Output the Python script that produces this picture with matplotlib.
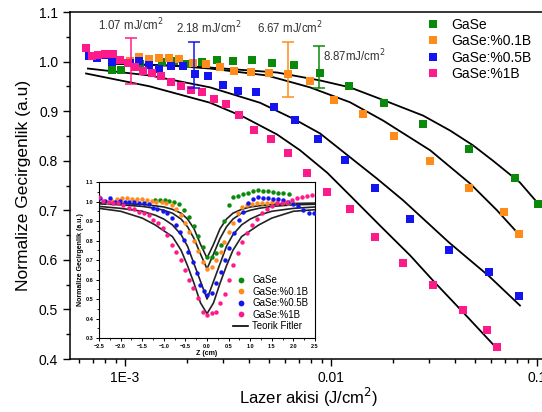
import numpy as np
import matplotlib
matplotlib.use('Agg')
import matplotlib.pyplot as plt
from matplotlib.ticker import MultipleLocator, LogLocator, NullFormatter

plt.rcParams['font.family'] = ['Liberation Sans', 'DejaVu Sans']

# --- ana grafik verileri (J/cm^2, normalize gecirgenlik) ---
gase_x = [8.65e-4, 9.56e-4, 1.18e-3, 1.51e-3, 1.73e-3, 2.00e-3, 2.37e-3, 2.80e-3, 3.34e-3, 4.14e-3,
          5.18e-3, 6.61e-3, 8.85e-3, 1.22e-2, 1.81e-2, 2.80e-2, 4.68e-2, 7.82e-2, 0.101]
gase_y = [0.984, 0.984, 0.996, 1.000, 1.002, 0.996, 1.000, 1.004, 1.002, 1.004,
          0.998, 0.994, 0.978, 0.950, 0.917, 0.875, 0.823, 0.766, 0.712]

b01_x = [1.057e-3, 1.17e-3, 1.31e-3, 1.46e-3, 1.64e-3, 1.83e-3, 2.14e-3, 2.47e-3, 2.89e-3, 3.38e-3,
         4.09e-3, 5.00e-3, 6.18e-3, 7.91e-3, 1.035e-2, 1.43e-2, 2.02e-2, 3.03e-2, 4.68e-2, 6.92e-2, 8.18e-2]
b01_y = [1.002, 1.010, 1.006, 1.008, 1.008, 1.006, 0.998, 0.996, 0.990, 0.982,
         0.980, 0.978, 0.974, 0.960, 0.923, 0.895, 0.849, 0.800, 0.744, 0.696, 0.653]

b05_x = [6.68e-4, 7.31e-4, 7.91e-4, 8.65e-4, 1.057e-3, 1.17e-3, 1.31e-3, 1.46e-3, 1.67e-3, 1.91e-3,
         2.19e-3, 2.53e-3, 2.99e-3, 3.54e-3, 4.33e-3, 5.29e-3, 6.69e-3, 8.65e-3, 1.17e-2, 1.64e-2,
         2.42e-2, 3.74e-2, 5.85e-2, 8.18e-2]
b05_y = [1.012, 1.008, 1.014, 1.000, 0.998, 1.002, 0.994, 0.986, 0.992, 0.992,
         0.974, 0.970, 0.952, 0.940, 0.938, 0.909, 0.883, 0.843, 0.802, 0.744,
         0.683, 0.619, 0.575, 0.528]

b1_x = [6.47e-4, 6.92e-4, 7.40e-4, 8.00e-4, 8.75e-4, 9.46e-4, 1.035e-3, 1.12e-3, 1.22e-3, 1.35e-3,
        1.50e-3, 1.67e-3, 1.87e-3, 2.09e-3, 2.37e-3, 2.70e-3, 3.09e-3, 3.57e-3, 4.23e-3, 5.12e-3,
        6.18e-3, 7.64e-3, 9.57e-3, 1.235e-2, 1.64e-2, 2.24e-2, 3.13e-2, 4.38e-2, 5.72e-2, 6.39e-2]
b1_y = [1.028, 1.012, 1.014, 1.016, 1.016, 1.004, 0.998, 0.990, 0.982, 0.978,
        0.970, 0.958, 0.950, 0.942, 0.938, 0.925, 0.915, 0.893, 0.863, 0.843,
        0.815, 0.776, 0.736, 0.702, 0.647, 0.593, 0.550, 0.498, 0.458, 0.425]

# teorik egriler (ana grafik)
fit_gase_x = [8.65e-4, 1.65e-3, 2.59e-3, 5.47e-3, 8.85e-3, 1.236e-2, 1.83e-2, 2.80e-2, 3.78e-2, 4.89e-2, 6.11e-2, 8.26e-2, 0.101]
fit_gase_y = [0.996, 0.992, 0.988, 0.978, 0.962, 0.948, 0.921, 0.891, 0.861, 0.831, 0.800, 0.756, 0.714]
fit_b01_x = [8.65e-4, 1.65e-3, 2.59e-3, 4.89e-3, 7.91e-3, 1.236e-2, 1.79e-2, 3.03e-2, 4.73e-2, 6.39e-2, 8.26e-2]
fit_b01_y = [0.996, 0.992, 0.986, 0.972, 0.948, 0.918, 0.881, 0.821, 0.754, 0.700, 0.649]
fit_b05_x = [6.61e-4, 1.32e-3, 2.59e-3, 4.52e-3, 6.69e-3, 8.85e-3, 1.17e-2, 1.67e-2, 2.24e-2, 3.74e-2, 5.85e-2, 8.26e-2]
fit_b05_y = [0.986, 0.972, 0.948, 0.917, 0.883, 0.855, 0.815, 0.764, 0.720, 0.635, 0.567, 0.508]
fit_b1_x = [6.47e-4, 1.32e-3, 2.59e-3, 3.74e-3, 5.47e-3, 7.08e-3, 9.57e-3, 1.236e-2, 1.73e-2, 2.42e-2, 3.13e-2, 4.38e-2, 6.39e-2]
fit_b1_y = [0.976, 0.950, 0.917, 0.889, 0.853, 0.821, 0.776, 0.730, 0.669, 0.609, 0.558, 0.494, 0.421]

# hata cubuklari
err_x = [1.07e-3, 2.16e-3, 6.18e-3, 8.70e-3]
err_y = [1.001, 0.993, 0.984, 0.989]
err_h = [0.047, 0.047, 0.056, 0.043]
err_lbl = ['1.07 mJ/cm$^2$', '2.18 mJ/cm$^2$', '6.67 mJ/cm$^2$', '8.87mJ/cm$^2$']

# --- ic grafik (z-scan) ---
in_gase_z = [-1.20, -1.09, -0.98, -0.87, -0.76, -0.65, -0.53, -0.42, -0.30, -0.20, -0.10, 0.01, 0.11, 0.21, 0.32,
             0.40, 0.50, 0.61, 0.72, 0.84, 0.96, 1.07, 1.19, 1.30, 1.42, 1.53, 1.65, 1.77, 1.90]
in_gase_t = [1.008, 1.008, 1.008, 1.004, 0.999, 0.987, 0.956, 0.922, 0.876, 0.822, 0.765, 0.714, 0.714, 0.734, 0.775,
             0.900, 0.982, 1.025, 1.030, 1.038, 1.045, 1.055, 1.059, 1.055, 1.054, 1.049, 1.045, 1.042, 1.038]
in_b01_z = [-2.32, -2.20, -2.09, -1.97, -1.86, -1.74, -1.63, -1.51, -1.40, -1.28, -1.17, -1.05, -0.94, -0.82, -0.71,
            -0.60, -0.51, -0.41, -0.30, -0.20, -0.10, 0.01, 0.11, 0.21, 0.32, 0.40, 0.51, 0.61, 0.71, 0.80,
            0.92, 1.03, 1.15, 1.27, 1.38, 1.50, 1.63, 1.76, 1.88, 2.00]
in_b01_t = [1.000, 1.005, 1.013, 1.016, 1.016, 1.013, 1.013, 1.011, 1.008, 1.004, 1.000, 0.996, 0.990, 0.980, 0.960,
            0.930, 0.891, 0.845, 0.797, 0.746, 0.690, 0.654, 0.666, 0.700, 0.743, 0.794, 0.845, 0.888, 0.943, 0.973,
            0.982, 0.986, 0.991, 0.994, 0.994, 0.995, 0.995, 0.995, 0.994, 0.994]
in_b05_z = [-2.48, -2.37, -2.25, -2.14, -2.02, -1.91, -1.80, -1.68, -1.57, -1.46, -1.34, -1.24, -1.15, -1.03, -0.93,
            -0.82, -0.72, -0.63, -0.53, -0.43, -0.33, -0.24, -0.16, -0.08, 0.01, 0.11, 0.21, 0.32, 0.42, 0.51,
            0.63, 0.75, 0.84, 0.96, 1.07, 1.19, 1.30, 1.42, 1.53, 1.65, 1.77, 1.88, 2.00, 2.10, 2.22, 2.35, 2.48]
in_b05_t = [1.016, 1.005, 1.020, 1.000, 1.004, 0.999, 0.999, 0.999, 0.991, 0.994, 0.985, 0.965, 0.960, 0.953, 0.940,
            0.914, 0.879, 0.845, 0.803, 0.743, 0.691, 0.632, 0.572, 0.540, 0.520, 0.529, 0.580, 0.640, 0.700, 0.760,
            0.837, 0.905, 0.948, 0.991, 1.011, 1.022, 1.020, 1.016, 1.011, 1.011, 1.006, 0.997, 0.985, 0.975, 0.956, 0.943, 0.940]
in_b1_z = [-2.49, -2.40, -2.28, -2.17, -2.05, -1.94, -1.80, -1.68, -1.57, -1.46, -1.34, -1.24, -1.14, -1.03, -0.92,
           -0.82, -0.72, -0.61, -0.51, -0.42, -0.32, -0.22, -0.10, 0.01, 0.11, 0.21, 0.30, 0.42, 0.52, 0.61,
           0.71, 0.82, 0.92, 1.03, 1.15, 1.27, 1.38, 1.50, 1.61, 1.73, 1.84, 1.96, 2.08, 2.19, 2.31, 2.42]
in_b1_t = [1.025, 1.004, 0.999, 0.994, 0.991, 0.982, 0.965, 0.960, 0.948, 0.939, 0.931, 0.905, 0.888, 0.863, 0.828,
           0.777, 0.743, 0.700, 0.649, 0.597, 0.555, 0.504, 0.435, 0.418, 0.426, 0.435, 0.478, 0.526, 0.597, 0.674,
           0.734, 0.794, 0.837, 0.879, 0.908, 0.939, 0.960, 0.977, 0.991, 0.994, 0.999, 1.008, 1.016, 1.025, 1.028, 1.033]

fit_z = [-2.5, -2.0, -1.5, -1.2, -1.0, -0.8, -0.6, -0.45, -0.3, -0.15, 0.0, 0.15, 0.3, 0.45, 0.6, 0.8, 1.0, 1.2, 1.5, 2.0, 2.5]
fit_in_gase = [0.995, 0.990, 0.985, 0.978, 0.972, 0.960, 0.940, 0.910, 0.860, 0.780, 0.710, 0.780, 0.860, 0.910, 0.940, 0.960, 0.972, 0.978, 0.985, 0.990, 0.992]
fit_in_b01 = [0.988, 0.983, 0.975, 0.965, 0.955, 0.940, 0.910, 0.870, 0.810, 0.730, 0.655, 0.730, 0.810, 0.870, 0.910, 0.940, 0.955, 0.965, 0.975, 0.983, 0.986]
fit_in_b05 = [0.975, 0.965, 0.950, 0.930, 0.910, 0.880, 0.830, 0.770, 0.680, 0.590, 0.500, 0.590, 0.680, 0.770, 0.830, 0.880, 0.910, 0.930, 0.950, 0.965, 0.972]
fit_in_b1 = [0.965, 0.950, 0.915, 0.880, 0.850, 0.820, 0.750, 0.670, 0.580, 0.480, 0.425, 0.480, 0.580, 0.670, 0.750, 0.820, 0.850, 0.880, 0.915, 0.950, 0.958]

labels = ['GaSe', 'GaSe:%0.1B', 'GaSe:%0.5B', 'GaSe:%1B']
renkler = ['#0a8a0a', '#ff8c1a', '#1414f0', '#ff1a8c']
err_renk = [renkler[3], renkler[2], renkler[1], renkler[0]]

fig = plt.figure(figsize=(5.42, 4.12), dpi=100)
ax = fig.add_axes([0.1292, 0.1286, 0.8819, 0.8422])

# teorik egriler
for fx, fy in [(fit_gase_x, fit_gase_y), (fit_b01_x, fit_b01_y), (fit_b05_x, fit_b05_y), (fit_b1_x, fit_b1_y)]:
    ax.plot(fx, fy, color='black', lw=1.3, zorder=2)

veriler = [(gase_x, gase_y), (b01_x, b01_y), (b05_x, b05_y), (b1_x, b1_y)]
for (vx, vy), lab, c in zip(veriler, labels, renkler):
    ax.plot(vx, vy, 's', color=c, ms=5.5, mew=0, label=lab, zorder=3)

for x, y, h, c in zip(err_x, err_y, err_h, err_renk):
    ax.errorbar([x], [y], yerr=[h], fmt='none', ecolor=c, elinewidth=1.1, capsize=4, capthick=1.1, zorder=4)

ax.text(1.07e-3, 1.0746, err_lbl[0], ha='center', va='center', fontsize=8.3, color='#333333')
ax.text(2.56e-3, 1.0685, err_lbl[1], ha='center', va='center', fontsize=8.3, color='#333333')
ax.text(6.32e-3, 1.0685, err_lbl[2], ha='center', va='center', fontsize=8.3, color='#333333')
ax.text(9.1e-3, 1.012, err_lbl[3], ha='left', va='center', fontsize=8.3, color='#333333')

ax.set_xscale('log')
ax.set_xlim(5.41e-4, 0.113)
ax.set_ylim(0.4, 1.1)
ax.set_xticks([1e-3, 1e-2, 1e-1])
ax.set_xticklabels(['1E-3', '0.01', '0.1'])
ax.xaxis.set_minor_locator(LogLocator(base=10, subs=np.arange(2, 10)))
ax.xaxis.set_minor_formatter(NullFormatter())
ax.yaxis.set_major_locator(MultipleLocator(0.1))
ax.yaxis.set_minor_locator(MultipleLocator(0.05))
ax.tick_params(which='major', direction='out', length=5, width=1, labelsize=10)
ax.tick_params(which='minor', direction='out', length=3, width=1)
ax.spines['right'].set_visible(False)
for s in ['left', 'bottom', 'top']:
    ax.spines[s].set_linewidth(1.1)
ax.set_xlabel('Lazer akisi (J/cm$^2$)', fontsize=12, labelpad=1)
ax.set_ylabel('Normalize Gecirgenlik (a.u)', fontsize=12.5, labelpad=6)

ax.legend(loc='upper left', bbox_to_anchor=(0.73, 1.008), frameon=False, fontsize=10,
          handlelength=0.8, handletextpad=0.9, labelspacing=0.18, borderaxespad=0.2)

# --- ic grafik ---
ins = fig.add_axes([0.1827, 0.1796, 0.3985, 0.3786])
for fy in [fit_in_gase, fit_in_b01, fit_in_b05, fit_in_b1]:
    ins.plot(fit_z, fy, color='#222222', lw=1.2, zorder=2)
ins_veri = [(in_gase_z, in_gase_t), (in_b01_z, in_b01_t), (in_b05_z, in_b05_t), (in_b1_z, in_b1_t)]
for (zz, tt), lab, c in zip(ins_veri, labels, renkler):
    ins.plot(zz, tt, 'o', color=c, ms=3.2, mew=0, label=lab, zorder=3)
ins.plot([], [], color='black', lw=1.2, label='Teorik Fitler')
ins.set_xlim(-2.5, 2.5)
ins.set_ylim(0.3, 1.1)
ins.xaxis.set_major_locator(MultipleLocator(0.5))
ins.xaxis.set_minor_locator(MultipleLocator(0.25))
ins.yaxis.set_major_locator(MultipleLocator(0.1))
ins.yaxis.set_minor_locator(MultipleLocator(0.05))
ins.tick_params(which='major', direction='out', length=2.5, width=0.7, labelsize=4, pad=1.5)
ins.tick_params(which='minor', direction='out', length=1.5, width=0.6)
for lab in ins.get_xticklabels() + ins.get_yticklabels():
    lab.set_fontweight('bold')
ins.set_xlabel('Z (cm)', fontsize=5, fontweight='bold', labelpad=1)
ins.set_ylabel('Normalize Gecirgenlik (a.u.)', fontsize=5, fontweight='bold', labelpad=1)
for s in ins.spines.values():
    s.set_linewidth(0.8)
ins.legend(loc='lower right', frameon=False, fontsize=7, handlelength=1.6, handletextpad=0.4,
           labelspacing=0.15, borderaxespad=0.3, markerscale=1.3)

fig.savefig('out.png', dpi=100)
